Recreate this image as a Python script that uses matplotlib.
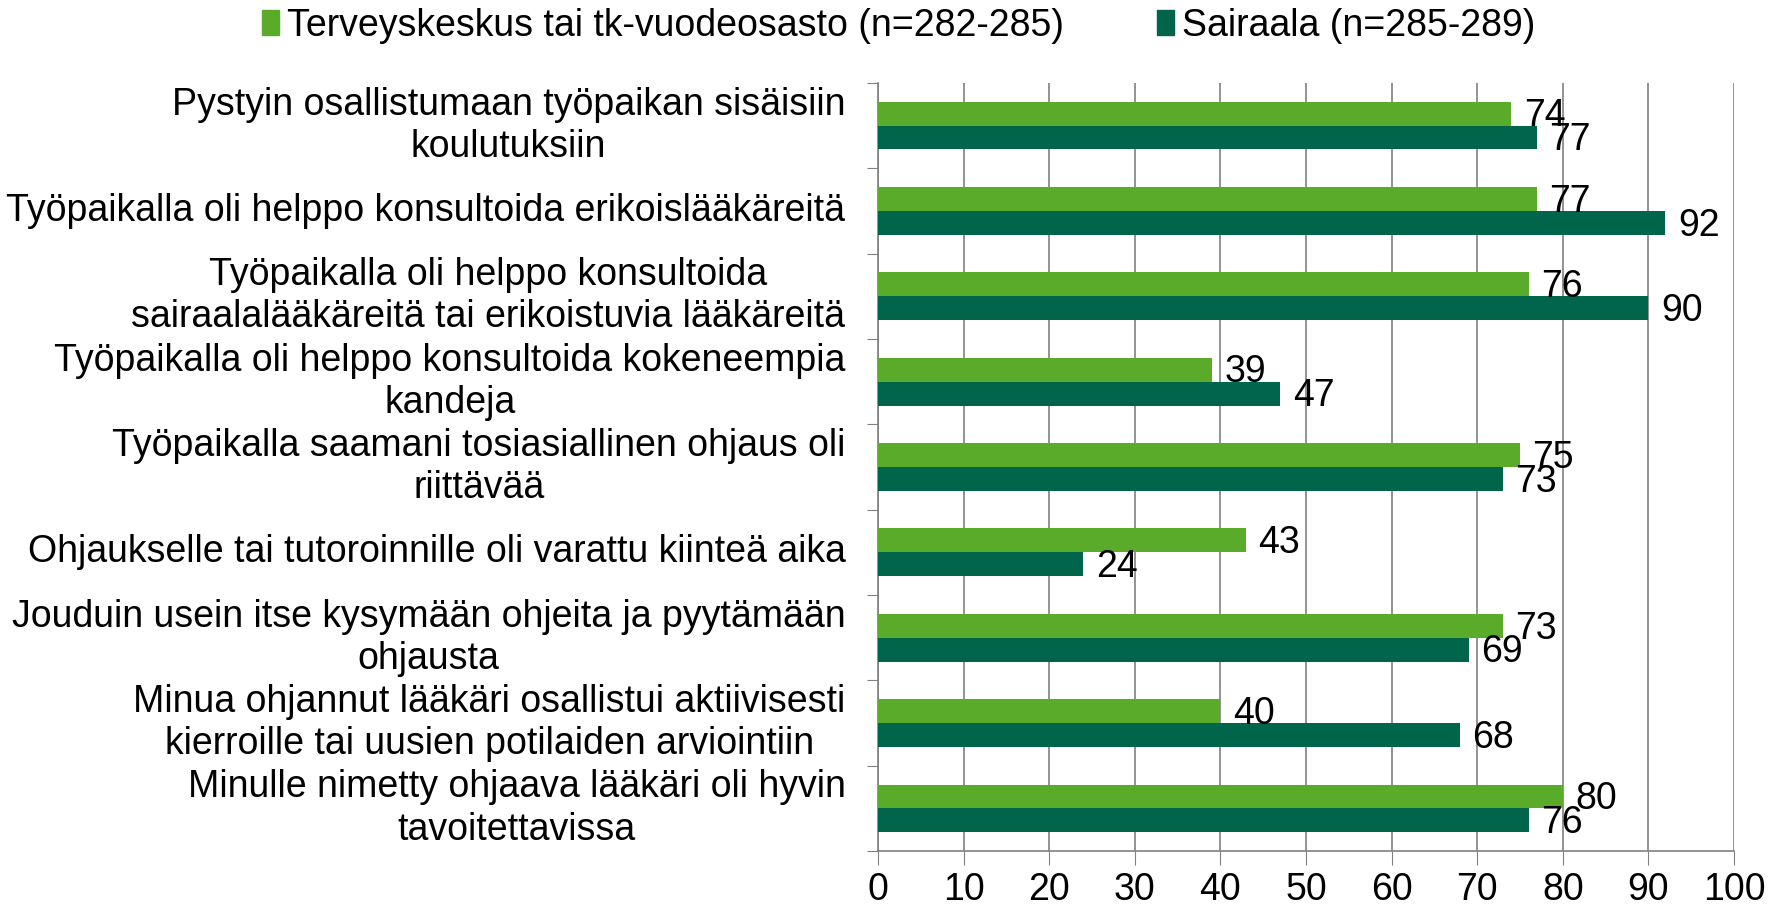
import matplotlib.pyplot as plt
from matplotlib.patches import Patch
import numpy as np

plt.rcParams['font.family'] = ['Liberation Sans', 'DejaVu Sans']

categories = [
    'Pystyin osallistumaan työpaikan sisäisiin\nkoulutuksiin',
    'Työpaikalla oli helppo konsultoida erikoislääkäreitä',
    'Työpaikalla oli helppo konsultoida\nsairaalalääkäreitä tai erikoistuvia lääkäreitä',
    'Työpaikalla oli helppo konsultoida kokeneempia\nkandeja',
    'Työpaikalla saamani tosiasiallinen ohjaus oli\nriittävää',
    'Ohjaukselle tai tutoroinnille oli varattu kiinteä aika',
    'Jouduin usein itse kysymään ohjeita ja pyytämään\nohjausta',
    'Minua ohjannut lääkäri osallistui aktiivisesti\nkierroille tai uusien potilaiden arviointiin',
    'Minulle nimetty ohjaava lääkäri oli hyvin\ntavoitettavissa',
]
terveyskeskus = [74, 77, 76, 39, 75, 43, 73, 40, 80]
sairaala = [77, 92, 90, 47, 73, 24, 69, 68, 76]
series_names = ['Terveyskeskus tai tk-vuodeosasto (n=282-285)', 'Sairaala (n=285-289)']

light = '#5aab2a'
dark = '#00654a'
fs = 27

fig = plt.figure(figsize=(17.83, 9.11), dpi=100)
ax = fig.add_axes([0.4924, 0.0657, 0.4801, 0.8433])

y = np.arange(len(categories))
h = 0.28
b1 = ax.barh(y - h / 2, terveyskeskus, height=h, color=light, zorder=3)
b2 = ax.barh(y + h / 2, sairaala, height=h, color=dark, zorder=3)

# value labels just right of each bar
for bars, vals in ((b1, terveyskeskus), (b2, sairaala)):
    for bar, v in zip(bars, vals):
        ax.annotate(str(v), (v, bar.get_y() + bar.get_height() / 2),
                    xytext=(9, -2), textcoords='offset points',
                    va='center', ha='left', fontsize=fs, zorder=4)

ax.set_xlim(0, 100)
ax.set_ylim(len(categories) - 0.5, -0.5)
ax.set_xticks(range(0, 101, 10))
ax.tick_params(axis='x', labelsize=fs, length=10, color='#808080', pad=5)

# ticks on the category boundaries, labels drawn as centred text
ax.set_yticks(np.arange(len(categories) + 1) - 0.5)
ax.set_yticklabels([])
ax.tick_params(axis='y', length=8, color='#808080')
for i, c in enumerate(categories):
    ax.text(-0.038, i, c, transform=ax.get_yaxis_transform(), ha='right', va='center',
            multialignment='center', fontsize=fs, linespacing=1.22)

ax.grid(axis='x', color='#808080', linewidth=1.2, zorder=0)
for s in ('top', 'right'):
    ax.spines[s].set_visible(False)
for s in ('left', 'bottom'):
    ax.spines[s].set_color('#808080')
    ax.spines[s].set_linewidth(1.2)

handles = [Patch(color=light), Patch(color=dark)]
fig.legend(handles, series_names, loc='center', bbox_to_anchor=(0.504, 0.972), ncol=2,
           frameon=False, fontsize=fs, handlelength=0.45, handleheight=0.65,
           handletextpad=0.2, columnspacing=2.5)

fig.savefig('out.png', dpi=100)
